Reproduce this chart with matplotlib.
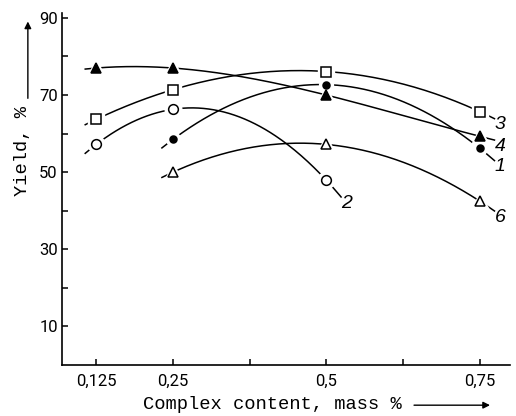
import numpy as np
import matplotlib
matplotlib.use('Agg')
import matplotlib.pyplot as plt
from matplotlib.ticker import FixedLocator, NullFormatter

# data (content in mass %, yield in %)
x_1 = [0.25, 0.5, 0.75]
y_1 = [58.5, 72.7, 56.2]
x_2 = [0.125, 0.25, 0.5]
y_2 = [57.2, 66.3, 47.9]
x_3 = [0.125, 0.25, 0.5, 0.75]
y_3 = [63.7, 71.4, 76.1, 65.7]
x_4 = [0.125, 0.25, 0.5, 0.75]
y_4 = [77.0, 77.0, 70.0, 59.3]
x_6 = [0.25, 0.5, 0.75]
y_6 = [50.0, 57.2, 42.5]

curve_names = ['1', '2', '3', '4', '6']

x_major = [0.125, 0.25, 0.5, 0.75]
x_labels = ['0,125', '0,25', '0,5', '0,75']
x_minor = [0.375, 0.625]
y_major = [10, 30, 50, 70, 90]
y_minor = [20, 40, 60, 80]

series = [
    (x_1, y_1, dict(marker='o', ms=5, mfc='black')),
    (x_2, y_2, dict(marker='o', ms=7, mfc='white')),
    (x_3, y_3, dict(marker='s', ms=6.5, mfc='white')),
    (x_4, y_4, dict(marker='^', ms=7.5, mfc='black')),
    (x_6, y_6, dict(marker='^', ms=7.5, mfc='white')),
]

fig = plt.figure(figsize=(5.16, 4.16), dpi=100)
ax = fig.add_axes([0.120, 0.1226, 0.868, 0.8464])

lead, tail = 0.018, 0.024
for (xs, ys, st), name in zip(series, curve_names):
    coef = np.polyfit(xs, ys, len(xs) - 1)
    xx = np.linspace(xs[0] - lead, xs[-1] + tail, 200)
    yy = np.polyval(coef, xx)
    ax.plot(xx, yy, color='black', lw=1.1, zorder=2)
    # white halo so the line stops short of each marker
    ax.plot(xs, ys, ls='none', marker=st['marker'], ms=st['ms'] + 5,
            mfc='white', mec='white', zorder=3)
    ax.plot(xs, ys, ls='none', marker=st['marker'], ms=st['ms'],
            mfc=st['mfc'], mec='black', mew=1.1, zorder=4)
    ax.text(xx[-1] + 0.009, yy[-1] - 1.6, name, ha='center', va='center',
            fontsize=14, style='italic', family='Liberation Sans')

ax.set_xlim(0.069, 0.799)
ax.set_ylim(0, 91.3)

for s in ['top', 'right']:
    ax.spines[s].set_visible(False)
for s in ['left', 'bottom']:
    ax.spines[s].set_linewidth(1.2)

ax.xaxis.set_major_locator(FixedLocator(x_major))
ax.set_xticklabels(x_labels)
ax.xaxis.set_minor_locator(FixedLocator(x_minor))
ax.xaxis.set_minor_formatter(NullFormatter())
ax.yaxis.set_major_locator(FixedLocator(y_major))
ax.yaxis.set_minor_locator(FixedLocator(y_minor))
ax.yaxis.set_minor_formatter(NullFormatter())

ax.tick_params(axis='both', which='both', direction='in', length=4, width=1.1)
ax.tick_params(axis='x', which='major', pad=6)
ax.tick_params(axis='y', which='major', pad=3)
for lab in ax.get_xticklabels() + ax.get_yticklabels():
    lab.set_family('Roboto')
    lab.set_fontsize(12)

# axis titles with their arrows
fig.text(0.528, 0.028, 'Complex content, mass %', ha='center', va='center',
         fontsize=13.5, family='Liberation Mono')
ax.annotate('', xy=(0.955, 0.026), xytext=(0.797, 0.026),
            xycoords='figure fraction',
            arrowprops=dict(arrowstyle='-|>', color='black', lw=1.0,
                            mutation_scale=10))
fig.text(0.043, 0.636, 'Yield, %', ha='center', va='center', rotation=90,
         fontsize=13.5, family='Liberation Mono')
ax.annotate('', xy=(0.054, 0.955), xytext=(0.054, 0.757),
            xycoords='figure fraction',
            arrowprops=dict(arrowstyle='-|>', color='black', lw=1.0,
                            mutation_scale=10))

fig.savefig('out.png', dpi=100)
